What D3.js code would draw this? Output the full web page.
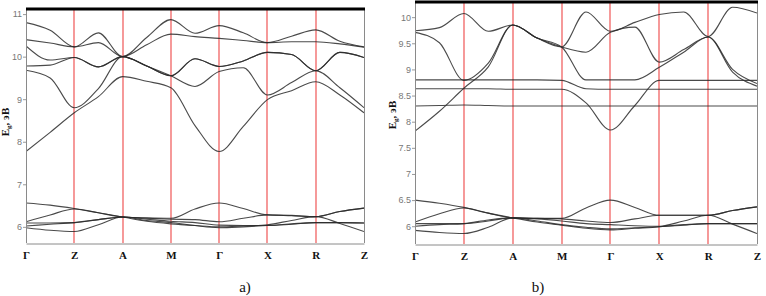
<!DOCTYPE html>
<html>
<head>
<meta charset="utf-8">
<script src="https://cdnjs.cloudflare.com/ajax/libs/d3/7.8.5/d3.min.js"></script>
<style>
body { margin: 0; background: #fff; }
</style>
</head>
<body>
<div id="chart"></div>
<script>
// k-path and symmetry point labels
var kPoints = ["Γ", "Z", "A", "M", "Γ", "X", "R", "Z"];
var kGrid = [0, 0.5, 1, 1.5, 2, 2.5, 3, 3.5, 4, 4.5, 5, 5.5, 6, 6.5, 7];

// panel a) band energies, eV, sampled on kGrid
var a1 = [10.80, 10.62, 10.23, 10.56, 10.00, 10.45, 10.87, 10.55, 10.73, 10.56, 10.33, 10.48, 10.63, 10.36, 10.23];
var a2 = [10.40, 10.32, 10.23, 10.33, 10.00, 10.28, 10.53, 10.47, 10.43, 10.38, 10.33, 10.35, 10.35, 10.30, 10.22];
var a3 = [10.25, 9.92, 9.98, 9.76, 10.00, 9.78, 9.55, 9.95, 9.77, 9.90, 10.10, 10.05, 9.67, 10.10, 9.98];
var a4 = [9.78, 9.80, 9.98, 9.76, 10.00, 9.78, 9.55, 9.95, 9.77, 9.90, 10.10, 10.05, 9.67, 10.10, 9.98];
var a5 = [9.68, 9.50, 8.80, 9.25, 10.00, 9.78, 9.55, 9.30, 9.65, 9.74, 9.10, 9.39, 9.67, 9.27, 8.80];
var a6 = [7.77, 8.22, 8.68, 9.06, 9.53, 9.42, 9.27, 8.38, 7.77, 8.36, 8.99, 9.20, 9.41, 9.10, 8.68];
var a7 = [6.56, 6.51, 6.43, 6.33, 6.23, 6.21, 6.20, 6.42, 6.56, 6.43, 6.28, 6.27, 6.24, 6.36, 6.44];
var a8 = [6.12, 6.28, 6.42, 6.33, 6.23, 6.13, 6.07, 6.03, 6.00, 6.02, 6.05, 6.15, 6.24, 6.08, 5.89];
var a9 = [6.02, 6.06, 6.10, 6.17, 6.23, 6.20, 6.18, 6.17, 6.12, 6.20, 6.28, 6.26, 6.24, 6.36, 6.44];
var a10 = [5.98, 5.92, 5.89, 6.05, 6.23, 6.15, 6.10, 6.03, 5.98, 6.00, 6.03, 6.07, 6.10, 6.10, 6.09];
var a11 = [6.09, 6.09, 6.10, 6.17, 6.23, 6.18, 6.13, 6.10, 6.04, 6.03, 6.03, 6.06, 6.10, 6.10, 6.09];

// panel b)
var b1 = [9.74, 9.80, 10.07, 9.73, 9.85, 9.60, 9.43, 10.10, 9.73, 9.90, 10.05, 10.10, 9.63, 10.19, 10.08];
var b2 = [9.71, 9.51, 8.79, 9.12, 9.85, 9.60, 9.43, 9.33, 9.71, 9.81, 9.14, 9.38, 9.62, 9.00, 8.73];
var b3 = [8.80, 8.80, 8.80, 8.80, 8.80, 8.80, 8.79, 8.63, 8.62, 8.62, 8.62, 8.62, 8.62, 8.62, 8.62];
var b4 = [8.63, 8.63, 8.63, 8.63, 8.62, 8.62, 8.62, 8.36, 7.84, 8.31, 8.79, 8.79, 8.79, 8.79, 8.79];
var b5 = [7.82, 8.20, 8.64, 9.05, 9.85, 9.60, 9.43, 8.80, 8.80, 8.80, 9.04, 9.33, 9.62, 8.95, 8.68];
var b6 = [8.30, 8.31, 8.32, 8.31, 8.30, 8.30, 8.30, 8.30, 8.30, 8.30, 8.30, 8.30, 8.30, 8.30, 8.30];
var b7 = [6.50, 6.44, 6.36, 6.25, 6.16, 6.15, 6.15, 6.35, 6.50, 6.36, 6.21, 6.21, 6.21, 6.30, 6.37];
var b8 = [6.08, 6.24, 6.35, 6.25, 6.16, 6.08, 6.02, 5.96, 5.93, 5.96, 5.99, 6.10, 6.21, 6.04, 5.86];
var b9 = [6.00, 6.03, 6.05, 6.12, 6.16, 6.15, 6.14, 6.10, 6.07, 6.14, 6.21, 6.21, 6.21, 6.30, 6.37];
var b10 = [5.92, 5.88, 5.86, 5.98, 6.16, 6.10, 6.03, 5.98, 5.95, 5.97, 5.99, 6.02, 6.05, 6.05, 6.05];
var b11 = [6.05, 6.05, 6.05, 6.10, 6.16, 6.14, 6.10, 6.05, 6.03, 6.01, 6.00, 6.03, 6.05, 6.05, 6.05];

var ticksA = [6, 7, 8, 9, 10, 11];
var ticksB = [6, 6.5, 7, 7.5, 8, 8.5, 9, 9.5, 10];

var width = 766, height = 296;

var svg = d3.select("#chart").append("svg")
    .attr("width", width)
    .attr("height", height)
    .style("font-family", "'Liberation Serif', 'Times New Roman', serif");

function drawPanel(id, bands, yDomain, yTicks, box, caption, captionX, titleX, titleY) {
    var x = d3.scaleLinear().domain([0, 7]).range([box.left, box.right]);
    var y = d3.scaleLinear().domain(yDomain).range([box.bottom, box.top]);
    var g = svg.append("g").attr("id", id);

    g.append("clipPath").attr("id", "clip-" + id)
        .append("rect")
        .attr("x", box.left).attr("y", box.top)
        .attr("width", box.right - box.left).attr("height", box.bottom - box.top);

    // red vertical lines at symmetry points
    g.selectAll(".kline")
        .data(d3.range(1, 7))
        .enter().append("line")
        .attr("class", "kline")
        .attr("x1", function (d) { return Math.round(x(d)); })
        .attr("x2", function (d) { return Math.round(x(d)); })
        .attr("y1", box.top)
        .attr("y2", box.bottom)
        .attr("stroke", "#f06060")
        .attr("stroke-opacity", 0.8)
        .attr("stroke-width", 1.6);

    var line = d3.line()
        .x(function (d, i) { return x(kGrid[i]); })
        .y(function (d) { return y(d); })
        .curve(d3.curveMonotoneX);

    g.append("g").attr("clip-path", "url(#clip-" + id + ")")
        .selectAll(".band")
        .data(bands)
        .enter().append("path")
        .attr("class", "band")
        .attr("d", line)
        .attr("fill", "none")
        .attr("stroke", "#2a2a2a")
        .attr("stroke-width", 1.1)
        .attr("stroke-opacity", 0.85);

    // frame
    g.append("line").attr("x1", box.left + 0.5).attr("x2", box.left + 0.5)
        .attr("y1", box.top).attr("y2", box.bottom).attr("stroke", "#8a8a8a");
    g.append("line").attr("x1", box.right + 0.5).attr("x2", box.right + 0.5)
        .attr("y1", box.top).attr("y2", box.bottom).attr("stroke", "#8a8a8a");
    g.append("line").attr("x1", box.left).attr("x2", box.right + 1)
        .attr("y1", box.top).attr("y2", box.top).attr("stroke", "#000").attr("stroke-width", 3);

    // y axis
    var yAxis = d3.axisLeft(y).tickValues(yTicks).tickSize(3).tickPadding(1)
        .tickFormat(function (d) { return d; });
    var ya = g.append("g").attr("transform", "translate(" + box.left + ",0)").call(yAxis);
    ya.select(".domain").remove();
    ya.selectAll("line").attr("stroke", "#999");
    ya.selectAll("text")
        .attr("fill", "#777")
        .style("font-family", "'Liberation Sans', Arial, sans-serif")
        .style("font-size", "9px");

    // x axis
    var xAxis = d3.axisBottom(x).tickValues(d3.range(0, 8)).tickSize(0).tickPadding(8)
        .tickFormat(function (d) { return kPoints[d]; });
    var xa = g.append("g").attr("transform", "translate(0," + (box.bottom + 0.5) + ")").call(xAxis);
    xa.select(".domain").attr("stroke", "#8a8a8a");
    xa.selectAll("text")
        .attr("fill", "#111")
        .style("font-family", "'Liberation Serif', 'Times New Roman', serif")
        .style("font-weight", "bold")
        .style("font-size", "11px");

    // y title
    var t = g.append("text")
        .attr("transform", "translate(" + titleX + "," + titleY + ") rotate(-90)")
        .attr("text-anchor", "middle")
        .style("font-weight", "bold")
        .style("font-size", "11px")
        .attr("fill", "#111");
    t.append("tspan").text("E");
    t.append("tspan").attr("dy", 2).style("font-size", "7px").text("g");
    t.append("tspan").attr("dy", -2).text(", эВ");

    g.append("text")
        .attr("x", captionX).attr("y", 292)
        .attr("text-anchor", "middle")
        .style("font-size", "15px")
        .attr("fill", "#111")
        .text(caption);
}

drawPanel("pa", [a1, a2, a3, a4, a5, a6, a7, a8, a9, a10, a11], [5.62, 11.12], ticksA,
    { left: 26, right: 364, top: 9, bottom: 243 }, "a)", 245, 9, 122);
drawPanel("pb", [b1, b2, b3, b4, b5, b6, b7, b8, b9, b10, b11], [5.66, 10.29], ticksB,
    { left: 415, right: 757, top: 2, bottom: 244 }, "b)", 538, 396, 115);
</script>
</body>
</html>
